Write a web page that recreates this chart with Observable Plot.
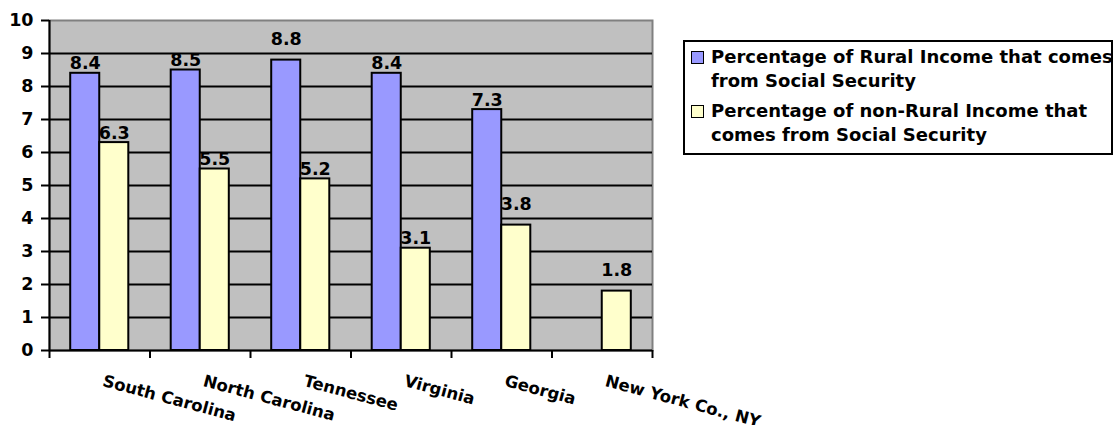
<!DOCTYPE html>
<html>
<head>
<meta charset="utf-8">
<script src="https://cdn.jsdelivr.net/npm/d3@7"></script>
<script src="https://cdn.jsdelivr.net/npm/@observablehq/plot@0.6"></script>
<style>
  html, body { margin: 0; padding: 0; background: white; overflow: hidden; }
  #wrap { position: relative; width: 1113px; height: 425px; overflow: hidden; }
  #legend {
    position: absolute; left: 683px; top: 40px; width: 430px; overflow: hidden;
    border: 2px solid black; background: white; box-sizing: border-box;
    padding: 3px 0 6px 6px;
    font-family: "DejaVu Sans", sans-serif; font-weight: bold; font-size: 18px; color: black;
  }
  .item { display: flex; align-items: flex-start; line-height: 24px; }
  .item + .item { margin-top: 6px; }
  .sw { flex: none; width: 11px; height: 11px; border: 1.5px solid black; margin: 6px 7px 0 0; }
  .lbl { flex: none; width: 412px; }
</style>
</head>
<body>
<div id="wrap"></div>
<script>
const states = ["South Carolina", "North Carolina", "Tennessee", "Virginia", "Georgia", "New York Co., NY"];
const ruralValues = [8.4, 8.5, 8.8, 8.4, 7.3, null];
const nonRuralValues = [6.3, 5.5, 5.2, 3.1, 3.8, 1.8];
const seriesNames = [
  "Percentage of Rural Income that comes from Social Security",
  "Percentage of non-Rural Income that comes from Social Security"
];
const seriesColors = ["#9999FF", "#FFFFCC"];
const yTicks = [0, 1, 2, 3, 4, 5, 6, 7, 8, 9, 10];
// labels that Excel lifted clear of a gridline
const liftedLabels = ["Tennessee|0", "Georgia|1", "New York Co., NY|1"];

const rows = [];
states.forEach((s, i) => {
  [ruralValues[i], nonRuralValues[i]].forEach((v, k) => {
    if (v != null) rows.push({ i, state: s, k, series: seriesNames[k], value: v });
  });
});

const barW = 0.289; // fraction of a category slot per bar
const x1 = d => d.k === 0 ? d.i + 0.5 - barW : d.i + 0.5;
const x2 = d => d.k === 0 ? d.i + 0.5 : d.i + 0.5 + barW;
const xc = d => (x1(d) + x2(d)) / 2;
const isLifted = d => liftedLabels.includes(d.state + "|" + d.k);

const boundaries = d3.range(0, states.length + 1);
const labelFont = { fontFamily: "DejaVu Sans", fontWeight: "bold", fontSize: 17.5, fill: "black" };

const chart = Plot.plot({
  width: 1113,
  height: 425,
  marginLeft: 49,
  marginRight: 461,
  marginTop: 20,
  marginBottom: 75,
  style: { background: "white", fontFamily: "DejaVu Sans", color: "black" },
  x: { domain: [0, states.length], axis: null },
  y: { domain: [0, 10], axis: null },
  color: { domain: seriesNames, range: seriesColors },
  marks: [
    Plot.frame({ fill: "#C0C0C0", stroke: "#808080", strokeWidth: 2 }),
    Plot.ruleY(yTicks.filter(t => t > 0 && t < 10), { stroke: "black", strokeWidth: 1.8 }),
    Plot.rectY(rows, { x1, x2, y1: 0, y2: "value", fill: "series", stroke: "black", strokeWidth: 2 }),
    Plot.ruleX([0], { stroke: "black", strokeWidth: 2 }),
    Plot.ruleY([0], { stroke: "black", strokeWidth: 2 }),
    Plot.axisY({ ticks: yTicks, label: null, tickSize: 8, tickPadding: 8, strokeWidth: 2, ...labelFont }),
    Plot.axisX({ ticks: boundaries, label: null, tickSize: 8, strokeWidth: 2, tickFormat: () => "" }),
    Plot.text(states, {
      x: (d, i) => i + 0.5, frameAnchor: "bottom", dx: 5, dy: 24, rotate: 15,
      textAnchor: "start", lineAnchor: "top",
      fontFamily: "DejaVu Sans", fontWeight: "bold", fontSize: 16.5, fill: "black"
    }),
    Plot.text(rows.filter(d => !isLifted(d)), {
      x: xc, y: "value", text: d => d.value.toFixed(1), dy: -4, lineAnchor: "bottom", ...labelFont
    }),
    Plot.text(rows.filter(isLifted), {
      x: xc, y: "value", text: d => d.value.toFixed(1), dy: -15, lineAnchor: "bottom", ...labelFont
    })
  ]
});

const wrap = document.getElementById("wrap");
wrap.appendChild(chart);

const legend = document.createElement("div");
legend.id = "legend";
seriesNames.forEach((name, k) => {
  const item = document.createElement("div");
  item.className = "item";
  const sw = document.createElement("div");
  sw.className = "sw";
  sw.style.background = seriesColors[k];
  const lbl = document.createElement("div");
  lbl.className = "lbl";
  lbl.textContent = name;
  item.appendChild(sw);
  item.appendChild(lbl);
  legend.appendChild(item);
});
wrap.appendChild(legend);
</script>
</body>
</html>
